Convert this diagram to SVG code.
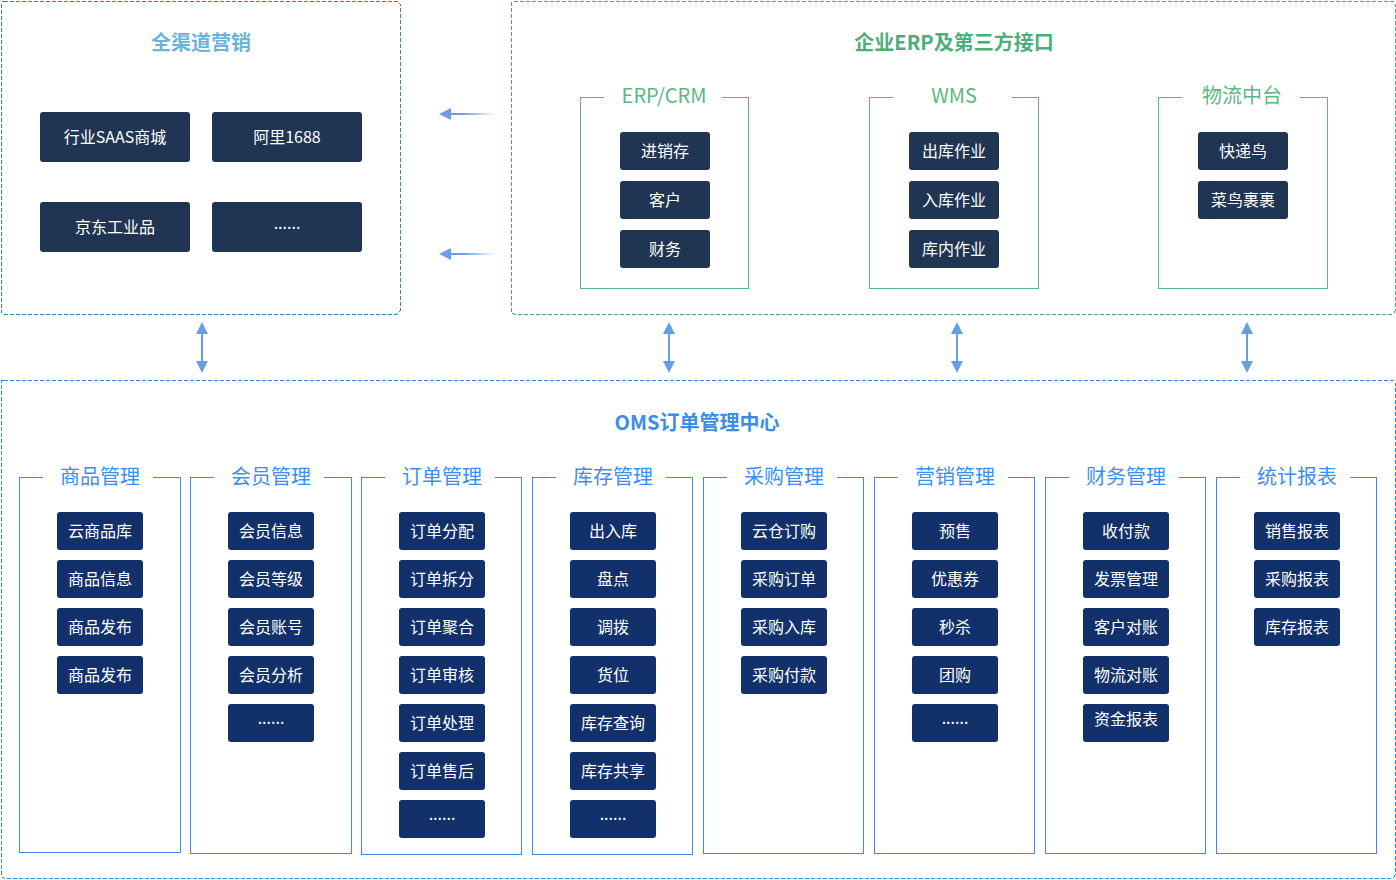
<svg xmlns="http://www.w3.org/2000/svg" width="1396" height="880" viewBox="0 0 1396 880">
<defs>
<style>
text{font-family:"Microsoft YaHei","Noto Sans CJK SC","Noto Sans",sans-serif;text-anchor:middle}
.t1{fill:#ffffff;font-size:16px}
.tb{fill:#1f3553}
.bb{fill:#12316a}
.bt{font-size:20px;font-weight:bold}
.gt{fill:#5cb784;font-size:20px}
.gl{fill:none;stroke:#5cb784;stroke-width:1;shape-rendering:crispEdges}
.ct{fill:#3d8ef0;font-size:20px}
.cl{fill:none;stroke:#3f88ec;stroke-width:1;shape-rendering:crispEdges}
.dash{fill:none;stroke-width:1;stroke-dasharray:4 2;shape-rendering:crispEdges}
.conn{stroke:#6a9fdf;stroke-width:2;fill:none}
</style>
<linearGradient id="fade" gradientUnits="userSpaceOnUse" x1="441" y1="0" x2="496" y2="0">
<stop offset="0" stop-color="#6a9fdf"/>
<stop offset="0.4" stop-color="#6a9fdf"/>
<stop offset="1" stop-color="#6a9fdf" stop-opacity="0"/>
</linearGradient>
<marker id="ah" viewBox="0 0 12 12" refX="10" refY="6" markerWidth="12" markerHeight="12" markerUnits="userSpaceOnUse" orient="auto-start-reverse">
<path d="M0,0 L12,6 L0,12 Z" fill="#6a9fdf"/>
</marker>
</defs>
<rect width="1396" height="880" fill="#ffffff"/>

<g id="channel">
<rect x="1" y="1" width="399" height="313" rx="3" class="dash" stroke="#3f7fb0"/>
<text x="201" y="50" class="bt" fill="#6ab4d8">全渠道营销</text>
<g id="saas"><rect x="40" y="112" width="150" height="50" rx="3" class="tb"/><text x="115" y="143" class="t1">行业SAAS商城</text></g>
<g id="ali"><rect x="212" y="112" width="150" height="50" rx="3" class="tb"/><text x="287" y="143" class="t1">阿里1688</text></g>
<g id="jd"><rect x="40" y="202" width="150" height="50" rx="3" class="tb"/><text x="115" y="233" class="t1">京东工业品</text></g>
<g id="more0"><rect x="212" y="202" width="150" height="50" rx="3" class="tb"/><text x="287" y="229" class="t1">......</text></g>
</g>

<g id="erp">
<rect x="511" y="1" width="884" height="313" rx="3" class="dash" stroke="#4fa570"/>
<text x="954" y="50" class="bt" fill="#4caf78">企业ERP及第三方接口</text>
<g id="erpcrm">
<path d="M604,97 H580 V288 H748 V97 H722" class="gl"/>
<text x="664" y="103" class="gt">ERP/CRM</text>
<rect x="620" y="132" width="90" height="38" rx="3" class="tb"/><text x="665" y="157" class="t1">进销存</text>
<rect x="620" y="181" width="90" height="38" rx="3" class="tb"/><text x="665" y="206" class="t1">客户</text>
<rect x="620" y="230" width="90" height="38" rx="3" class="tb"/><text x="665" y="255" class="t1">财务</text>
</g>
<g id="wms">
<path d="M893,97 H869 V288 H1038 V97 H1012" class="gl"/>
<text x="954" y="103" class="gt">WMS</text>
<rect x="909" y="132" width="90" height="38" rx="3" class="tb"/><text x="954" y="157" class="t1">出库作业</text>
<rect x="909" y="181" width="90" height="38" rx="3" class="tb"/><text x="954" y="206" class="t1">入库作业</text>
<rect x="909" y="230" width="90" height="38" rx="3" class="tb"/><text x="954" y="255" class="t1">库内作业</text>
</g>
<g id="logistics">
<path d="M1182,97 H1158 V288 H1327 V97 H1300" class="gl"/>
<text x="1242" y="103" class="gt">物流中台</text>
<rect x="1198" y="132" width="90" height="38" rx="3" class="tb"/><text x="1243" y="157" class="t1">快递鸟</text>
<rect x="1198" y="181" width="90" height="38" rx="3" class="tb"/><text x="1243" y="206" class="t1">菜鸟裹裹</text>
</g>
</g>

<g id="connectors">
<line x1="496" y1="114" x2="441" y2="114" stroke="url(#fade)" stroke-width="2" marker-end="url(#ah)"/>
<line x1="496" y1="254" x2="441" y2="254" stroke="url(#fade)" stroke-width="2" marker-end="url(#ah)"/>
<line x1="202" y1="324" x2="202" y2="371" class="conn" marker-start="url(#ah)" marker-end="url(#ah)"/>
<line x1="669" y1="324" x2="669" y2="371" class="conn" marker-start="url(#ah)" marker-end="url(#ah)"/>
<line x1="957" y1="324" x2="957" y2="371" class="conn" marker-start="url(#ah)" marker-end="url(#ah)"/>
<line x1="1247" y1="324" x2="1247" y2="371" class="conn" marker-start="url(#ah)" marker-end="url(#ah)"/>
</g>

<g id="oms">
<rect x="1" y="380" width="1394" height="498" rx="3" class="dash" stroke="#2f83ee"/>
<text x="697" y="430" class="bt" fill="#3a8ee6">OMS订单管理中心</text>

<g id="goods">
<path d="M43,477 H19 V852 H180 V477 H153" class="cl"/>
<text x="100" y="484" class="ct">商品管理</text>
<rect x="57" y="512" width="86" height="38" rx="3" class="bb"/><text x="100" y="537" class="t1">云商品库</text>
<rect x="57" y="560" width="86" height="38" rx="3" class="bb"/><text x="100" y="585" class="t1">商品信息</text>
<rect x="57" y="608" width="86" height="38" rx="3" class="bb"/><text x="100" y="633" class="t1">商品发布</text>
<rect x="57" y="656" width="86" height="38" rx="3" class="bb"/><text x="100" y="681" class="t1">商品发布</text>
</g>
<g id="member">
<path d="M214,477 H190 V853 H351 V477 H324" class="cl"/>
<text x="271" y="484" class="ct">会员管理</text>
<rect x="228" y="512" width="86" height="38" rx="3" class="bb"/><text x="271" y="537" class="t1">会员信息</text>
<rect x="228" y="560" width="86" height="38" rx="3" class="bb"/><text x="271" y="585" class="t1">会员等级</text>
<rect x="228" y="608" width="86" height="38" rx="3" class="bb"/><text x="271" y="633" class="t1">会员账号</text>
<rect x="228" y="656" width="86" height="38" rx="3" class="bb"/><text x="271" y="681" class="t1">会员分析</text>
<rect x="228" y="704" width="86" height="38" rx="3" class="bb"/><text x="271" y="724" class="t1">......</text>
</g>
<g id="order">
<path d="M385,477 H361 V854 H521 V477 H495" class="cl"/>
<text x="442" y="484" class="ct">订单管理</text>
<rect x="399" y="512" width="86" height="38" rx="3" class="bb"/><text x="442" y="537" class="t1">订单分配</text>
<rect x="399" y="560" width="86" height="38" rx="3" class="bb"/><text x="442" y="585" class="t1">订单拆分</text>
<rect x="399" y="608" width="86" height="38" rx="3" class="bb"/><text x="442" y="633" class="t1">订单聚合</text>
<rect x="399" y="656" width="86" height="38" rx="3" class="bb"/><text x="442" y="681" class="t1">订单审核</text>
<rect x="399" y="704" width="86" height="38" rx="3" class="bb"/><text x="442" y="729" class="t1">订单处理</text>
<rect x="399" y="752" width="86" height="38" rx="3" class="bb"/><text x="442" y="777" class="t1">订单售后</text>
<rect x="399" y="800" width="86" height="38" rx="3" class="bb"/><text x="442" y="820" class="t1">......</text>
</g>
<g id="stock">
<path d="M556,477 H532 V854 H692 V477 H666" class="cl"/>
<text x="613" y="484" class="ct">库存管理</text>
<rect x="570" y="512" width="86" height="38" rx="3" class="bb"/><text x="613" y="537" class="t1">出入库</text>
<rect x="570" y="560" width="86" height="38" rx="3" class="bb"/><text x="613" y="585" class="t1">盘点</text>
<rect x="570" y="608" width="86" height="38" rx="3" class="bb"/><text x="613" y="633" class="t1">调拨</text>
<rect x="570" y="656" width="86" height="38" rx="3" class="bb"/><text x="613" y="681" class="t1">货位</text>
<rect x="570" y="704" width="86" height="38" rx="3" class="bb"/><text x="613" y="729" class="t1">库存查询</text>
<rect x="570" y="752" width="86" height="38" rx="3" class="bb"/><text x="613" y="777" class="t1">库存共享</text>
<rect x="570" y="800" width="86" height="38" rx="3" class="bb"/><text x="613" y="820" class="t1">......</text>
</g>
<g id="purchase">
<path d="M727,477 H703 V853 H863 V477 H837" class="cl"/>
<text x="784" y="484" class="ct">采购管理</text>
<rect x="741" y="512" width="86" height="38" rx="3" class="bb"/><text x="784" y="537" class="t1">云仓订购</text>
<rect x="741" y="560" width="86" height="38" rx="3" class="bb"/><text x="784" y="585" class="t1">采购订单</text>
<rect x="741" y="608" width="86" height="38" rx="3" class="bb"/><text x="784" y="633" class="t1">采购入库</text>
<rect x="741" y="656" width="86" height="38" rx="3" class="bb"/><text x="784" y="681" class="t1">采购付款</text>
</g>
<g id="marketing">
<path d="M898,477 H874 V853 H1034 V477 H1008" class="cl"/>
<text x="955" y="484" class="ct">营销管理</text>
<rect x="912" y="512" width="86" height="38" rx="3" class="bb"/><text x="955" y="537" class="t1">预售</text>
<rect x="912" y="560" width="86" height="38" rx="3" class="bb"/><text x="955" y="585" class="t1">优惠券</text>
<rect x="912" y="608" width="86" height="38" rx="3" class="bb"/><text x="955" y="633" class="t1">秒杀</text>
<rect x="912" y="656" width="86" height="38" rx="3" class="bb"/><text x="955" y="681" class="t1">团购</text>
<rect x="912" y="704" width="86" height="38" rx="3" class="bb"/><text x="955" y="724" class="t1">......</text>
</g>
<g id="finance">
<path d="M1069,477 H1045 V853 H1205 V477 H1179" class="cl"/>
<text x="1126" y="484" class="ct">财务管理</text>
<rect x="1083" y="512" width="86" height="38" rx="3" class="bb"/><text x="1126" y="537" class="t1">收付款</text>
<rect x="1083" y="560" width="86" height="38" rx="3" class="bb"/><text x="1126" y="585" class="t1">发票管理</text>
<rect x="1083" y="608" width="86" height="38" rx="3" class="bb"/><text x="1126" y="633" class="t1">客户对账</text>
<rect x="1083" y="656" width="86" height="38" rx="3" class="bb"/><text x="1126" y="681" class="t1">物流对账</text>
<rect x="1083" y="704" width="86" height="38" rx="3" class="bb"/><text x="1126" y="725" class="t1">资金报表</text>
</g>
<g id="report">
<path d="M1240,477 H1216 V853 H1376 V477 H1350" class="cl"/>
<text x="1297" y="484" class="ct">统计报表</text>
<rect x="1254" y="512" width="86" height="38" rx="3" class="bb"/><text x="1297" y="537" class="t1">销售报表</text>
<rect x="1254" y="560" width="86" height="38" rx="3" class="bb"/><text x="1297" y="585" class="t1">采购报表</text>
<rect x="1254" y="608" width="86" height="38" rx="3" class="bb"/><text x="1297" y="633" class="t1">库存报表</text>
</g>
</g>
</svg>
